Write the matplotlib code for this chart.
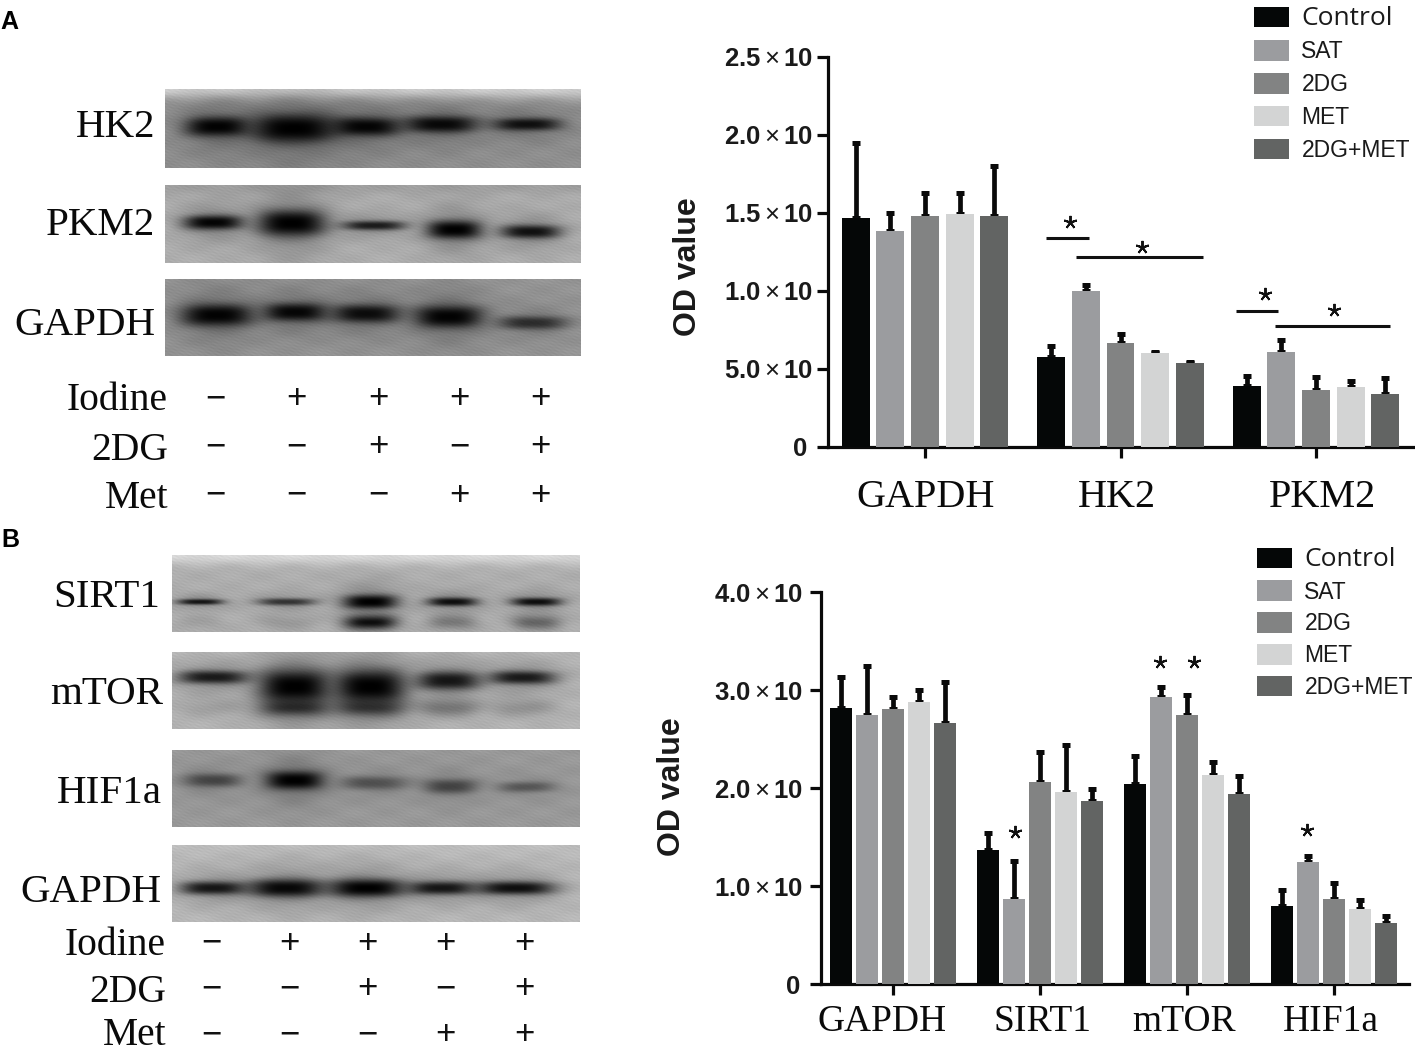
import numpy as np
import matplotlib
matplotlib.use("Agg")
import matplotlib.pyplot as plt
from matplotlib.transforms import ScaledTranslation

W, H = 1415, 1046
series = ["Control", "SAT", "2DG", "MET", "2DG+MET"]
colors = ["#050707", "#9b9c9f", "#828383", "#d3d4d4", "#626463"]

# --- Panel A bars
catsA = ["GAPDH", "HK2", "PKM2"]
valsA = [[1.47, 0.575, 0.39], [1.383, 0.998, 0.61], [1.48, 0.665, 0.363], [1.494, 0.60, 0.383], [1.483, 0.54, 0.338]]
topsA = [[1.947, 0.645, 0.457], [1.50, 1.04, 0.688], [1.63, 0.725, 0.45], [1.63, 0.607, 0.42], [1.80, 0.543, 0.443]]
yticksA = [0, 0.5, 1.0, 1.5, 2.0, 2.5]
ylabelsA = ["0", "5.0", "1.0", "1.5", "2.0", "2.5"]
sigLinesA = [(0.62, 0.84, 1.34), (0.772, 1.42, 1.215), (1.59, 1.806, 0.87), (1.79, 2.38, 0.775)]
starsA = [(0.741, 1.44), (1.11, 1.28), (1.74, 0.98), (2.09, 0.88)]

# --- Panel B bars
catsB = ["GAPDH", "SIRT1", "mTOR", "HIF1a"]
valsB = [[2.815, 1.37, 2.04, 0.80], [2.74, 0.865, 2.93, 1.25], [2.81, 2.06, 2.74, 0.87], [2.88, 1.96, 2.13, 0.77], [2.66, 1.87, 1.94, 0.62]]
topsB = [[3.13, 1.54, 2.33, 0.96], [3.25, 1.26, 3.03, 1.31], [2.93, 2.37, 2.95, 1.03], [3.00, 2.44, 2.27, 0.86], [3.08, 1.99, 2.12, 0.69]]
yticksB = [0, 1, 2, 3, 4]
ylabelsB = ["0", "1.0", "2.0", "3.0", "4.0"]
starsB = [(0.83, 1.55), (1.816, 3.285), (2.048, 3.285), (2.816, 1.57)]

# --- Treatment tables
rowLabels = ["Iodine", "2DG", "Met"]
signs = [["−", "+", "+", "+", "+"], ["−", "−", "+", "−", "+"], ["−", "−", "−", "+", "+"]]

# --- Blot bands: lane centre, half width, sigma, strength, vertical centre (fractions of blot)
hk2 = dict(bg=0.56, cx=[.124, .309, .484, .664, .871], hw=[.075, .10, .08, .085, .08], cy=[.477, .50, .477, .447, .447], sg=[.095, .14, .09, .08, .06], d=[.98, 1, .96, .93, .87], top=.80)
pkm2 = dict(bg=0.68, cx=[.115, .304, .502, .696, .88], hw=[.07, .08, .075, .065, .07], cy=[.48, .49, .52, .574, .60], sg=[.07, .13, .045, .09, .065], d=[.97, 1, .8, 1, .88], top=.62)
gapdhA = dict(bg=0.58, cx=[.124, .313, .484, .682, .885], hw=[.085, .075, .08, .08, .08], cy=[.47, .43, .45, .49, .57], sg=[.11, .09, .09, .11, .065], d=[.98, .95, .9, .98, .65], top=.58)
sirt1 = dict(bg=0.68, cx=[.068, .28, .486, .688, .894], hw=[.055, .07, .065, .06, .06], cy=[.61] * 5, sg=[.028, .035, .07, .042, .04], d=[.85, .65, 1, .9, .9], top=.84,
             cx2=[.068, .28, .486, .688, .894], cy2=[.88] * 5, sg2=[.07] * 5, d2=[.08, .12, .92, .3, .42])
mtor = dict(bg=0.70, cx=[.10, .30, .486, .678, .86], hw=[.085, .085, .085, .075, .08], cy=[.325, .45, .45, .37, .33], sg=[.065, .17, .17, .09, .065], d=[.82, 1, 1, .85, .82], top=.72,
            cx2=[.10, .30, .486, .678, .86], cy2=[.73] * 5, sg2=[.08] * 5, d2=[.1, .65, .6, .3, .18])
hif1a = dict(bg=0.60, cx=[.097, .30, .496, .683, .87], hw=[.07, .07, .08, .065, .07], cy=[.40, .40, .435, .478, .487], sg=[.065, .09, .065, .07, .05], d=[.5, 1, .42, .5, .38], top=.60)
gapdhB = dict(bg=0.72, cx=[.10, .28, .477, .66, .843], hw=[.08, .09, .09, .08, .095], cy=[.56] * 5, sg=[.065, .09, .09, .065, .065], d=[.85, .95, 1, .85, .9], top=.74)

plt.rcParams["font.family"] = ["Liberation Sans", "DejaVu Sans"]
plt.rcParams["mathtext.fontset"] = "custom"
plt.rcParams["mathtext.bf"] = "Liberation Sans:bold"
plt.rcParams["mathtext.rm"] = "Liberation Sans"
plt.rcParams["mathtext.it"] = "Liberation Sans:italic"
fig = plt.figure(figsize=(W / 100, H / 100), dpi=100, facecolor="white")


def px_axes(l, t, r, b, **kw):
    return fig.add_axes([l / W, 1 - b / H, (r - l) / W, (b - t) / H], **kw)


def ftext(x, y, s, **kw):
    return fig.text(x / W, 1 - y / H, s, **kw)


def blot(rect, b):
    l, t, r, bt = rect
    ax = px_axes(l, t, r, bt)
    nx, ny = r - l, bt - t
    xx, yy = np.meshgrid(np.linspace(0, 1, nx), np.linspace(0, 1, ny))
    img = np.full_like(xx, b["bg"])
    img = img + (b["top"] - b["bg"]) * np.exp(-(yy / 0.12) ** 2)
    img += 0.02 * np.sin(xx * 310 + yy * 97) * np.sin(yy * 220 - xx * 143) + 0.014 * np.sin(xx * 41 + 2) * np.cos(yy * 23)
    for c, w, y0, s, d in zip(b["cx"], b["hw"], b["cy"], b["sg"], b["d"]):
        img *= 1 - d * np.exp(-np.abs((xx - c) / w) ** 3) * np.exp(-np.abs((yy - y0) / s) ** 2.6 / 2)
        img *= 1 - 0.25 * d * np.exp(-np.abs((xx - c) / (w * 1.15)) ** 2) * np.exp(-((yy - y0) / (s * 2.6)) ** 2 / 2)
    if "cx2" in b:
        for c, w, y0, s, d in zip(b["cx2"], b["hw"], b["cy2"], b["sg2"], b["d2"]):
            img *= 1 - d * np.exp(-np.abs((xx - c) / w) ** 3) * np.exp(-((yy - y0) / s) ** 2 / 2)
    ax.imshow(img, cmap="gray", vmin=0, vmax=1, aspect="auto", interpolation="bilinear")
    ax.axis("off")


blot((165, 89, 581, 168), hk2)
blot((165, 185, 581, 263), pkm2)
blot((165, 279, 581, 356), gapdhA)
blot((172, 555, 580, 632), sirt1)
blot((172, 652, 580, 729), mtor)
blot((172, 750, 580, 827), hif1a)
blot((172, 845, 580, 922), gapdhB)

serif = ["Liberation Serif", "DejaVu Serif"]
for (txt, x, y) in [("HK2", 155, 137), ("PKM2", 155, 235), ("GAPDH", 155, 335),
                    ("SIRT1", 160, 607), ("mTOR", 163, 704), ("HIF1a", 162, 803), ("GAPDH", 162, 902)]:
    ftext(x, y, txt, family=serif, fontsize=29.5, ha="right", va="baseline", color="#0a0a0a")

for rows, baselines, right, xs, ys in [
    (rowLabels, [410, 460, 508], 168, [215, 296, 378, 459, 540], [408, 456, 505]),
    (rowLabels, [955, 1002, 1045], 166, [211, 289, 367, 445, 524], [953, 998, 1044]),
]:
    for i, lab in enumerate(rows):
        ftext(right, baselines[i], lab, family=serif, fontsize=28.5, ha="right", va="baseline", color="#0a0a0a")
        for j, s in enumerate(signs[i]):
            ftext(xs[j], ys[i], s, fontsize=25, ha="center", va="baseline", color="#111111")

ftext(0, 29, "A", fontsize=18, fontweight="bold", color="black", va="baseline")
ftext(1, 547, "B", fontsize=18, fontweight="bold", color="black", va="baseline")


def sci(s):
    return s if s == "0" else r"$\mathbf{%s}\times\mathbf{10}$" % s


def chart(rect, cats, vals, tops, yticks, ylabels, ymax, offs, width, span, lpad, zpad, xfont, xpad, xoffs, stars, ylabx, ylaby):
    ax = px_axes(*rect)
    g = np.arange(len(cats))
    for i, name in enumerate(series):
        x = g + (i - 2) * offs
        v = np.array(vals[i])
        t = np.array(tops[i])
        ax.errorbar(x, v, yerr=[np.zeros_like(v), t - v], fmt="none", ecolor="#0a0a0a", elinewidth=3.4, capsize=3, capthick=3.6, zorder=2)
        ax.bar(x, v, width=width, color=colors[i], label=name, zorder=3)
    ax.set_xlim(*span)
    ax.set_ylim(0, ymax)
    for s in ("top", "right"):
        ax.spines[s].set_visible(False)
    for s in ("left", "bottom"):
        ax.spines[s].set_linewidth(2.3)
        ax.spines[s].set_color("#0a0a0a")
    ax.set_xticks(g)
    ax.set_xticklabels(cats, family=serif, fontsize=xfont, color="#0a0a0a")
    ax.set_yticks(yticks)
    ax.set_yticklabels([sci(s) for s in ylabels], fontsize=18.5, fontweight="bold", color="#1a1a1a")
    ax.tick_params(axis="x", length=8, width=2.3, pad=xpad, color="#0a0a0a")
    ax.tick_params(axis="y", length=8, width=2.3, pad=lpad, color="#0a0a0a")
    ax.yaxis.get_major_ticks()[0].set_pad(zpad)
    for lab, off in zip(ax.get_xticklabels(), xoffs):
        lab.set_transform(lab.get_transform() + ScaledTranslation(off / 100, 0, fig.dpi_scale_trans))
    ax.plot([x for x, _ in stars], [y for _, y in stars], ls="none", marker=(5, 2), ms=9.5, mew=1.4, color="#111111", zorder=5)
    ax.patch.set_alpha(0)
    ftext(ylabx, ylaby, "OD value", fontsize=23, fontweight="bold", rotation=90, ha="center", va="center", color="#1a1a1a")
    return ax


axA = chart((828, 57, 1414, 447), catsA, valsA, topsA, yticksA, ylabelsA, 2.5, 0.177, 0.143,
            ((828 - 925) / 195.5, (1414 - 925) / 195.5), 3, 7, 29, 15, [1, -4, 6], starsA, 688, 267)
for x1, x2, y in sigLinesA:
    axA.plot([x1, x2], [y, y], color="#111111", lw=2.2, solid_capstyle="butt", zorder=5)

axB = chart((821, 592, 1409, 984), catsB, valsB, topsB, yticksB, ylabelsB, 4, 0.177, 0.15,
            ((821 - 893) / 147, (1409 - 893) / 147), 5, 7, 27, 7, [-11, 2, -3, -3], starsB, 672, 787)

for ax, anchor, fs, ls in [(axA, (1248, 0), 16.5, 0.42), (axB, (1251, 541), 16.5, 0.38)]:
    leg = ax.legend(loc="upper left", bbox_to_anchor=(anchor[0] / W, 1 - anchor[1] / H), bbox_transform=fig.transFigure,
                    frameon=False, fontsize=fs, handlelength=1.53, handleheight=1.0, handletextpad=0.55,
                    labelspacing=ls, borderpad=0.25, borderaxespad=0)
    leg.get_texts()[0].set_fontfamily("Open Sans")
    leg.get_texts()[0].set_fontsize(19)
    for t in leg.get_texts():
        t.set_color("#1a1a1a")

fig.savefig("out.png", dpi=100)
